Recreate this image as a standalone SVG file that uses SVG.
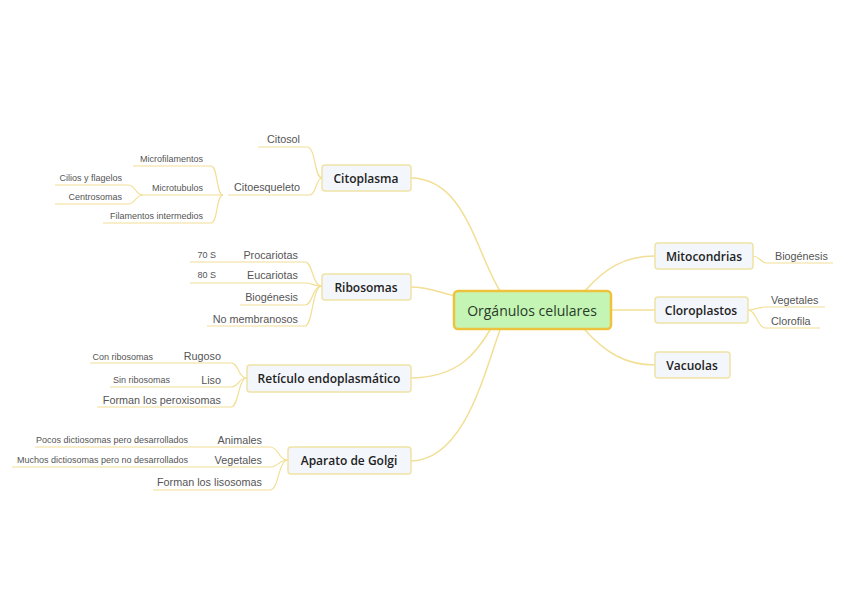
<svg xmlns="http://www.w3.org/2000/svg" width="848" height="599" viewBox="0 0 848 599">
<style>
.bg{fill:#ffffff}
.c{fill:none;stroke:#f2df96;stroke-width:1.5}
.s{fill:none;stroke:#f2df96;stroke-width:1.2}
.node{fill:#f3f6fb;stroke:#efe3a6;stroke-width:1.5}
.root{fill:#c4f5b4;stroke:#eec23c;stroke-width:2.5}
.t{font-family:"Open Sans","Liberation Sans",sans-serif;font-size:12px;font-weight:600;fill:#222;text-anchor:middle}
.rt{font-family:"Open Sans","Liberation Sans",sans-serif;font-size:14px;fill:#2a3a2a;text-anchor:middle}
.l{font-family:"Liberation Sans",sans-serif;font-size:10.8px;fill:#555;text-anchor:end}
.ls{font-family:"Liberation Sans",sans-serif;font-size:9px;fill:#555;text-anchor:end}
.lr{font-family:"Liberation Sans",sans-serif;font-size:10.8px;fill:#555;text-anchor:start}
</style>
<rect class="bg" width="848" height="599"/>
<g id="connectors">
<path class="c" d="M410,178 C465,178 475,250 500,291"/>
<path class="c" d="M410,287 C430,287 440,293 455,296"/>
<path class="c" d="M410,378 C460,378 478,350 490,330"/>
<path class="c" d="M410,461 C465,461 485,370 500,330"/>
<path class="c" d="M585,291 C605,268 625,256 655,256"/>
<path class="c" d="M612,310 L655,310"/>
<path class="c" d="M585,330 C605,352 625,365 655,365"/>
<path class="s" d="M258,147 L307,147 C316,147 314,178 322,178"/>
<path class="s" d="M228,195 L310,195 C316,195 316,178 322,178"/>
<path class="s" d="M133,166 L211,166 C218,166 216,195 223,195"/>
<path class="s" d="M143,195 L223,195"/>
<path class="s" d="M103,223 L211,223 C218,223 216,195 223,195"/>
<path class="s" d="M55,185 L128,185 C136,185 135,195 143,195"/>
<path class="s" d="M55,204 L128,204 C136,204 135,195 143,195"/>
<path class="s" d="M190,262 L305,262 C313,262 312,286 322,286"/>
<path class="s" d="M190,283 L305,283 C313,283 312,286 322,286"/>
<path class="s" d="M240,305 L305,305 C313,305 312,286 322,286"/>
<path class="s" d="M207,326 L305,326 C313,326 312,286 322,286"/>
<path class="s" d="M90,363 L231,363 C239,363 238,378 247,378"/>
<path class="s" d="M110,387 L231,387 C239,387 238,378 247,378"/>
<path class="s" d="M97,407 L231,407 C239,407 238,378 247,378"/>
<path class="s" d="M35,447 L270,447 C279,447 278,460 288,460"/>
<path class="s" d="M12,467 L270,467 C279,467 278,460 288,460"/>
<path class="s" d="M153,490 L270,490 C279,490 278,460 288,460"/>
<path class="s" d="M753,256 C760,256 760,263 767,263 L833,263"/>
<path class="s" d="M748,310 C756,310 758,307 765,307 L825,307"/>
<path class="s" d="M748,310 C756,310 758,328 765,328 L820,328"/>
</g>
<g id="root"><rect class="root" x="454" y="291" width="157" height="38" rx="4"/><text class="rt" x="532" y="316">Orgánulos celulares</text></g>
<g id="citoplasma"><rect class="node" x="322" y="165" width="89" height="26" rx="3"/><text class="t" x="366" y="183">Citoplasma</text></g>
<g id="ribosomas"><rect class="node" x="322" y="274" width="89" height="26" rx="3"/><text class="t" x="366" y="292">Ribosomas</text></g>
<g id="reticulo"><rect class="node" x="247" y="365" width="164" height="27" rx="3"/><text class="t" x="329" y="383">Retículo endoplasmático</text></g>
<g id="golgi"><rect class="node" x="288" y="447" width="123" height="27" rx="3"/><text class="t" x="349" y="465">Aparato de Golgi</text></g>
<g id="mitocondrias"><rect class="node" x="655" y="243" width="98" height="26" rx="3"/><text class="t" x="704" y="261">Mitocondrias</text></g>
<g id="cloroplastos"><rect class="node" x="655" y="297" width="93" height="26" rx="3"/><text class="t" x="701" y="315">Cloroplastos</text></g>
<g id="vacuolas"><rect class="node" x="655" y="352" width="75" height="26" rx="3"/><text class="t" x="692" y="370">Vacuolas</text></g>
<g id="labels">
<text class="l" x="300" y="143">Citosol</text>
<text class="l" x="300" y="191">Citoesqueleto</text>
<text class="ls" x="203" y="162">Microfilamentos</text>
<text class="ls" x="203" y="191">Microtubulos</text>
<text class="ls" x="203" y="219">Filamentos intermedios</text>
<text class="ls" x="122" y="181">Cilios y flagelos</text>
<text class="ls" x="122" y="200">Centrosomas</text>
<text class="l" x="298" y="259">Procariotas</text>
<text class="ls" x="216" y="258">70 S</text>
<text class="l" x="298" y="279">Eucariotas</text>
<text class="ls" x="216" y="278">80 S</text>
<text class="l" x="298" y="301">Biogénesis</text>
<text class="l" x="298" y="323">No membranosos</text>
<text class="l" x="221" y="360">Rugoso</text>
<text class="ls" x="153" y="360">Con ribosomas</text>
<text class="l" x="221" y="384">Liso</text>
<text class="ls" x="170" y="383">Sin ribosomas</text>
<text class="l" x="221" y="404">Forman los peroxisomas</text>
<text class="l" x="262" y="444">Animales</text>
<text class="ls" x="188" y="443">Pocos dictiosomas pero desarrollados</text>
<text class="l" x="262" y="464">Vegetales</text>
<text class="ls" x="188" y="463">Muchos dictiosomas pero no desarrollados</text>
<text class="l" x="262" y="486">Forman los lisosomas</text>
<text class="lr" x="775" y="260">Biogénesis</text>
<text class="lr" x="771" y="304">Vegetales</text>
<text class="lr" x="771" y="325">Clorofila</text>
</g>
</svg>
